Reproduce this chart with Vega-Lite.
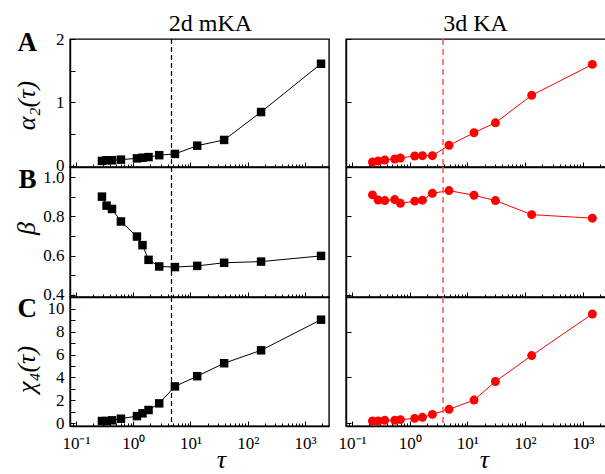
{
  "$schema": "https://vega.github.io/schema/vega-lite/v6.json",
  "padding": {"left": 12, "top": 10, "right": 0, "bottom": 4},
  "config": {
    "font": "Liberation Serif",
    "view": {"stroke": "black", "strokeWidth": 1.4},
    "axis": {"labelFont": "Liberation Serif", "labelFontSize": 17, "labelColor": "black", "titleFont": "Liberation Serif", "titleColor": "black", "titleFontWeight": "normal", "titleFontStyle": "italic", "domainColor": "black", "domainWidth": 1.4, "tickColor": "black", "tickWidth": 1, "grid": false},
    "title": {"font": "Liberation Serif", "color": "black"}
  },
  "datasets": {
    "mka": [
      {"tau": 0.284, "alpha2": 0.08, "beta": 0.901, "chi4": 0.20},
      {"tau": 0.342, "alpha2": 0.09, "beta": 0.855, "chi4": 0.20},
      {"tau": 0.425, "alpha2": 0.09, "beta": 0.838, "chi4": 0.26},
      {"tau": 0.609, "alpha2": 0.10, "beta": 0.774, "chi4": 0.40},
      {"tau": 1.16, "alpha2": 0.12, "beta": 0.697, "chi4": 0.63},
      {"tau": 1.45, "alpha2": 0.13, "beta": 0.653, "chi4": 0.87},
      {"tau": 1.85, "alpha2": 0.14, "beta": 0.578, "chi4": 1.16},
      {"tau": 2.84, "alpha2": 0.17, "beta": 0.544, "chi4": 1.74},
      {"tau": 5.35, "alpha2": 0.19, "beta": 0.541, "chi4": 3.22},
      {"tau": 13.1, "alpha2": 0.32, "beta": 0.547, "chi4": 4.11},
      {"tau": 38.7, "alpha2": 0.41, "beta": 0.563, "chi4": 5.24},
      {"tau": 171, "alpha2": 0.85, "beta": 0.569, "chi4": 6.37},
      {"tau": 1910, "alpha2": 1.61, "beta": 0.598, "chi4": 9.04}
    ],
    "ka": [
      {"tau": 0.226, "alpha2": 0.063, "beta": 0.910, "chi4": 0.20},
      {"tau": 0.283, "alpha2": 0.079, "beta": 0.884, "chi4": 0.20},
      {"tau": 0.369, "alpha2": 0.094, "beta": 0.881, "chi4": 0.26},
      {"tau": 0.549, "alpha2": 0.11, "beta": 0.886, "chi4": 0.26},
      {"tau": 0.690, "alpha2": 0.126, "beta": 0.867, "chi4": 0.32},
      {"tau": 1.22, "alpha2": 0.157, "beta": 0.878, "chi4": 0.43},
      {"tau": 1.66, "alpha2": 0.162, "beta": 0.883, "chi4": 0.52},
      {"tau": 2.47, "alpha2": 0.162, "beta": 0.918, "chi4": 0.78},
      {"tau": 4.80, "alpha2": 0.326, "beta": 0.932, "chi4": 1.22},
      {"tau": 13.0, "alpha2": 0.524, "beta": 0.908, "chi4": 2.03},
      {"tau": 30.6, "alpha2": 0.68, "beta": 0.881, "chi4": 3.65},
      {"tau": 130, "alpha2": 1.113, "beta": 0.809, "chi4": 5.91},
      {"tau": 1466, "alpha2": 1.60, "beta": 0.791, "chi4": 9.54}
    ],
    "vmka": [{"tau": 4.66}],
    "vka": [{"tau": 3.78}]
  },
  "columns": 2,
  "bounds": "flush",
  "spacing": {"row": 0, "column": 17},
  "concat": [
    {
      "width": 259, "height": 128,
      "resolve": {"axis": {"x": "independent", "y": "independent"}},
      "layer": [
        {
          "data": {"name": "mka"},
          "mark": {"type": "line", "color": "black", "strokeWidth": 1},
          "encoding": {
            "x": {"field": "tau", "type": "quantitative", "scale": {"type": "log", "domain": [0.0785, 2630], "nice": false},
              "axis": {"title": null, "labels": false, "values": [0.08,0.09,0.1,0.2,0.3,0.4,0.5,0.6,0.7,0.8,0.9,1,2,3,4,5,6,7,8,9,10,20,30,40,50,60,70,80,90,100,200,300,400,500,600,700,800,900,1000,2000],
                "tickSize": {"condition": {"test": "indexof([0.1,1,10,100,1000], datum.value) >= 0", "value": -5}, "value": -3}}},
            "y": {"field": "alpha2", "type": "quantitative", "scale": {"domain": [-0.016, 2.0], "nice": false, "zero": false},
              "axis": {"title": "α₂(τ)", "titleFontSize": 26, "titleX": -44, "titleY": 66, "titleBaseline": "middle", "values": [0, 0.5, 1, 1.5, 2], "labelExpr": "datum.value % 1 == 0 ? format(datum.value, 'd') : ''", "tickSize": -5, "labelPadding": 11}}
          }
        },
        {
          "data": {"name": "mka"},
          "mark": {"type": "point", "shape": "square", "filled": true, "color": "black", "size": 72, "opacity": 1},
          "encoding": {
            "x": {"field": "tau", "type": "quantitative", "axis": null},
            "y": {"field": "alpha2", "type": "quantitative",
              "axis": {"orient": "left", "title": "A", "titleAngle": 0, "titleX": -53, "titleY": 11, "titleAlign": "left", "titleBaseline": "alphabetic", "titleFontSize": 27, "titleFontWeight": "bold", "titleFontStyle": "normal", "domain": false, "ticks": false, "labels": false}}
          }
        },
        {
          "data": {"name": "vmka"},
          "mark": {"type": "rule", "color": "black", "strokeWidth": 1.2, "strokeDash": [5, 3]},
          "encoding": {
            "x": {"field": "tau", "type": "quantitative",
              "axis": {"orient": "top", "title": "2d mKA", "domain": false, "ticks": false, "labels": false, "titleFontStyle": "normal", "titleFontSize": 24, "titleX": 140, "titleY": -9, "titleBaseline": "alphabetic", "titleAlign": "center"}}
          }
        }
      ]
    },
    {
      "width": 261, "height": 128,
      "resolve": {"axis": {"x": "independent"}},
      "layer": [
        {
          "data": {"name": "ka"},
          "mark": {"type": "line", "color": "#ff0000", "strokeWidth": 1},
          "encoding": {
            "x": {"field": "tau", "type": "quantitative", "scale": {"type": "log", "domain": [0.0785, 2630], "nice": false},
              "axis": {"title": null, "labels": false, "values": [0.08,0.09,0.1,0.2,0.3,0.4,0.5,0.6,0.7,0.8,0.9,1,2,3,4,5,6,7,8,9,10,20,30,40,50,60,70,80,90,100,200,300,400,500,600,700,800,900,1000,2000],
                "tickSize": {"condition": {"test": "indexof([0.1,1,10,100,1000], datum.value) >= 0", "value": -5}, "value": -3}}},
            "y": {"field": "alpha2", "type": "quantitative", "scale": {"domain": [-0.016, 2.0], "nice": false, "zero": false},
              "axis": {"title": null, "values": [0, 0.5, 1, 1.5, 2], "labels": false, "tickSize": -5}}
          }
        },
        {
          "data": {"name": "ka"},
          "mark": {"type": "point", "shape": "circle", "filled": true, "color": "#ff0000", "size": 80, "opacity": 1},
          "encoding": {
            "x": {"field": "tau", "type": "quantitative", "axis": null},
            "y": {"field": "alpha2", "type": "quantitative"}
          }
        },
        {
          "data": {"name": "vka"},
          "mark": {"type": "rule", "color": "#ff5555", "strokeWidth": 1.5, "strokeDash": [6, 4]},
          "encoding": {
            "x": {"field": "tau", "type": "quantitative",
              "axis": {"orient": "top", "title": "3d KA", "domain": false, "ticks": false, "labels": false, "titleFontStyle": "normal", "titleFontSize": 24, "titleX": 129, "titleY": -9, "titleBaseline": "alphabetic", "titleAlign": "center"}}
          }
        }
      ]
    },
    {
      "width": 259, "height": 130,
      "resolve": {"axis": {"y": "independent"}},
      "layer": [
        {
          "data": {"name": "mka"},
          "mark": {"type": "line", "color": "black", "strokeWidth": 1},
          "encoding": {
            "x": {"field": "tau", "type": "quantitative", "scale": {"type": "log", "domain": [0.0785, 2630], "nice": false},
              "axis": {"title": null, "labels": false, "values": [0.08,0.09,0.1,0.2,0.3,0.4,0.5,0.6,0.7,0.8,0.9,1,2,3,4,5,6,7,8,9,10,20,30,40,50,60,70,80,90,100,200,300,400,500,600,700,800,900,1000,2000],
                "tickSize": {"condition": {"test": "indexof([0.1,1,10,100,1000], datum.value) >= 0", "value": -5}, "value": -3}}},
            "y": {"field": "beta", "type": "quantitative", "scale": {"domain": [0.388, 1.0525], "nice": false, "zero": false},
              "axis": {"title": "β", "titleFontSize": 26, "titleX": -44, "titleY": 61, "titleBaseline": "middle", "values": [0.4, 0.5, 0.6, 0.7, 0.8, 0.9, 1.0], "labelExpr": "round(datum.value * 10) % 2 == 0 ? format(datum.value, '.1f') : ''", "tickSize": -5, "labelPadding": 11}}
          }
        },
        {
          "data": {"name": "mka"},
          "mark": {"type": "point", "shape": "square", "filled": true, "color": "black", "size": 72, "opacity": 1},
          "encoding": {
            "x": {"field": "tau", "type": "quantitative"},
            "y": {"field": "beta", "type": "quantitative",
              "axis": {"orient": "left", "title": "B", "titleAngle": 0, "titleX": -52, "titleY": 20, "titleAlign": "left", "titleBaseline": "alphabetic", "titleFontSize": 27, "titleFontWeight": "bold", "titleFontStyle": "normal", "domain": false, "ticks": false, "labels": false}}
          }
        },
        {
          "data": {"name": "vmka"},
          "mark": {"type": "rule", "color": "black", "strokeWidth": 1.2, "strokeDash": [5, 3]},
          "encoding": {"x": {"field": "tau", "type": "quantitative"}}
        }
      ]
    },
    {
      "width": 261, "height": 130,
      "layer": [
        {
          "data": {"name": "ka"},
          "mark": {"type": "line", "color": "#ff0000", "strokeWidth": 1},
          "encoding": {
            "x": {"field": "tau", "type": "quantitative", "scale": {"type": "log", "domain": [0.0785, 2630], "nice": false},
              "axis": {"title": null, "labels": false, "values": [0.08,0.09,0.1,0.2,0.3,0.4,0.5,0.6,0.7,0.8,0.9,1,2,3,4,5,6,7,8,9,10,20,30,40,50,60,70,80,90,100,200,300,400,500,600,700,800,900,1000,2000],
                "tickSize": {"condition": {"test": "indexof([0.1,1,10,100,1000], datum.value) >= 0", "value": -5}, "value": -3}}},
            "y": {"field": "beta", "type": "quantitative", "scale": {"domain": [0.388, 1.0525], "nice": false, "zero": false},
              "axis": {"title": null, "values": [0.4, 0.5, 0.6, 0.7, 0.8, 0.9, 1.0], "labels": false, "tickSize": -5}}
          }
        },
        {
          "data": {"name": "ka"},
          "mark": {"type": "point", "shape": "circle", "filled": true, "color": "#ff0000", "size": 80, "opacity": 1},
          "encoding": {
            "x": {"field": "tau", "type": "quantitative"},
            "y": {"field": "beta", "type": "quantitative"}
          }
        },
        {
          "data": {"name": "vka"},
          "mark": {"type": "rule", "color": "#ff5555", "strokeWidth": 1.5, "strokeDash": [6, 4]},
          "encoding": {"x": {"field": "tau", "type": "quantitative"}}
        }
      ]
    },
    {
      "width": 259, "height": 129,
      "resolve": {"axis": {"y": "independent"}},
      "layer": [
        {
          "data": {"name": "mka"},
          "mark": {"type": "line", "color": "black", "strokeWidth": 1},
          "encoding": {
            "x": {"field": "tau", "type": "quantitative", "scale": {"type": "log", "domain": [0.0785, 2630], "nice": false},
              "axis": {"title": "τ", "titleFontSize": 26, "titleX": 151, "titleY": 41, "titleBaseline": "alphabetic", "titleAlign": "center", "values": [0.08,0.09,0.1,0.2,0.3,0.4,0.5,0.6,0.7,0.8,0.9,1,2,3,4,5,6,7,8,9,10,20,30,40,50,60,70,80,90,100,200,300,400,500,600,700,800,900,1000,2000],
                "labelExpr": "datum.value == 0.1 ? '10⁻¹' : datum.value == 1 ? '10⁰' : datum.value == 10 ? '10¹' : datum.value == 100 ? '10²' : datum.value == 1000 ? '10³' : ''",
                "labelPadding": 14,
                "tickSize": {"condition": {"test": "indexof([0.1,1,10,100,1000], datum.value) >= 0", "value": -5}, "value": -3}}},
            "y": {"field": "chi4", "type": "quantitative", "scale": {"domain": [-0.235, 11.02], "nice": false, "zero": false},
              "axis": {"title": "χ₄(τ)", "titleFontSize": 26, "titleX": -44, "titleY": 72, "titleBaseline": "middle", "values": [0,1,2,3,4,5,6,7,8,9,10], "labelExpr": "datum.value % 2 == 0 ? format(datum.value, 'd') : ''", "tickSize": -5, "labelPadding": 11}}
          }
        },
        {
          "data": {"name": "mka"},
          "mark": {"type": "point", "shape": "square", "filled": true, "color": "black", "size": 72, "opacity": 1},
          "encoding": {
            "x": {"field": "tau", "type": "quantitative"},
            "y": {"field": "chi4", "type": "quantitative",
              "axis": {"orient": "left", "title": "C", "titleAngle": 0, "titleX": -53, "titleY": 19, "titleAlign": "left", "titleBaseline": "alphabetic", "titleFontSize": 27, "titleFontWeight": "bold", "titleFontStyle": "normal", "domain": false, "ticks": false, "labels": false}}
          }
        },
        {
          "data": {"name": "vmka"},
          "mark": {"type": "rule", "color": "black", "strokeWidth": 1.2, "strokeDash": [5, 3]},
          "encoding": {"x": {"field": "tau", "type": "quantitative"}}
        }
      ]
    },
    {
      "width": 261, "height": 129,
      "layer": [
        {
          "data": {"name": "ka"},
          "mark": {"type": "line", "color": "#ff0000", "strokeWidth": 1},
          "encoding": {
            "x": {"field": "tau", "type": "quantitative", "scale": {"type": "log", "domain": [0.0785, 2630], "nice": false},
              "axis": {"title": "τ", "titleFontSize": 26, "titleX": 138, "titleY": 41, "titleBaseline": "alphabetic", "titleAlign": "center", "values": [0.08,0.09,0.1,0.2,0.3,0.4,0.5,0.6,0.7,0.8,0.9,1,2,3,4,5,6,7,8,9,10,20,30,40,50,60,70,80,90,100,200,300,400,500,600,700,800,900,1000,2000],
                "labelExpr": "datum.value == 0.1 ? '10⁻¹' : datum.value == 1 ? '10⁰' : datum.value == 10 ? '10¹' : datum.value == 100 ? '10²' : datum.value == 1000 ? '10³' : ''",
                "labelPadding": 14,
                "tickSize": {"condition": {"test": "indexof([0.1,1,10,100,1000], datum.value) >= 0", "value": -5}, "value": -3}}},
            "y": {"field": "chi4", "type": "quantitative", "scale": {"domain": [-0.235, 11.02], "nice": false, "zero": false},
              "axis": {"title": null, "values": [0,1,2,3,4,5,6,7,8,9,10], "labels": false, "tickSize": -5}}
          }
        },
        {
          "data": {"name": "ka"},
          "mark": {"type": "point", "shape": "circle", "filled": true, "color": "#ff0000", "size": 80, "opacity": 1},
          "encoding": {
            "x": {"field": "tau", "type": "quantitative"},
            "y": {"field": "chi4", "type": "quantitative"}
          }
        },
        {
          "data": {"name": "vka"},
          "mark": {"type": "rule", "color": "#ff5555", "strokeWidth": 1.5, "strokeDash": [6, 4]},
          "encoding": {"x": {"field": "tau", "type": "quantitative"}}
        }
      ]
    }
  ]
}
